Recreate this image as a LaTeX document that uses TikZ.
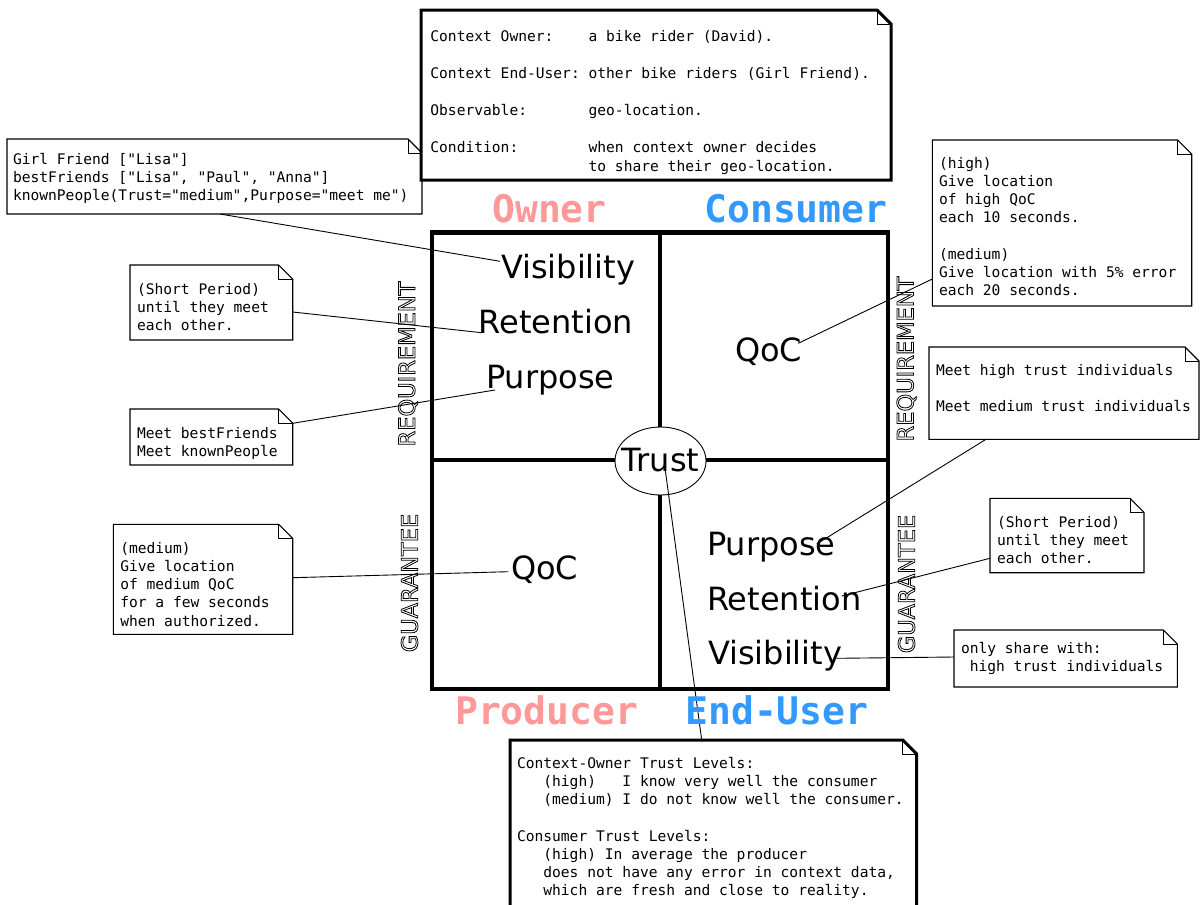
\documentclass[tikz,border=0pt]{standalone}
\usepackage{fontspec}
\setmainfont{DejaVu Sans}
\newfontfamily\monof{DejaVu Sans Mono}
\usetikzlibrary{shapes.geometric,calc}
\definecolor{ownpink}{RGB}{255,153,153}
\definecolor{conblue}{RGB}{51,153,255}
\newcommand\outl[1]{\special{pdf:literal direct 1 Tr 0.8 w}#1\special{pdf:literal direct 0 Tr}}
\newcommand\col[1]{\makebox[10.836em][l]{#1}}
\newcommand\dogear[2]{%
  \draw[line width=#1] (#2.south west) -- (#2.north west) -- ($(#2.north east)+(-14,0)$) -- ($(#2.north east)+(0,14)$) -- (#2.south east) -- cycle;
  \draw[line width=0.9] ($(#2.north east)+(-14,0)$) |- ($(#2.north east)+(0,14)$);}
\begin{document}
\begin{tikzpicture}[x=1pt,y=-1pt,line join=miter,
  every node/.style={inner sep=0pt,outer sep=0pt},
  box/.style={anchor=north west,fill=white,draw=none},
  mtext/.style={anchor=north west,align=left,font=\monof\fontsize{14.6}{18.2}\selectfont,yshift=9.74pt,execute at begin node=\strut},
  big/.style={anchor=base west,font=\fontsize{32}{36}\selectfont},
  role/.style={anchor=base,font=\monof\bfseries\fontsize{38}{44}\selectfont},
  side/.style={rotate=90,font=\fontsize{22.5}{27}\selectfont},
  conn/.style={line width=0.9},
  gridline/.style={line width=4.5}]
\useasboundingbox[fill=white] (0,0) rectangle (1200,905);

% grid
\draw[gridline] (432,232.5) rectangle (888,689);
\draw[gridline] (660,232.5) -- (660,689);
\draw[gridline] (432,460) -- (888,460);

% notes (thin)
\node[box,minimum width=415,minimum height=75] (tl) at (7,139) {};
\dogear{1.1}{tl}
\node[mtext] (tlt) at (13,163) {Girl Friend ["Lisa"]\\bestFriends ["Lisa", "Paul", "Anna"]\\knownPeople(Trust="medium",Purpose="meet me")};

\node[box,minimum width=162.7,minimum height=75] (sp1) at (130,265) {};
\dogear{1.1}{sp1}
\node[mtext] (sp1t) at (137,293) {(Short Period)\\until they meet\\each other.};

\node[box,minimum width=162.7,minimum height=56] (mb) at (130,409) {};
\dogear{1.1}{mb}
\node[mtext] (mbt) at (137,437) {Meet bestFriends\\Meet knownPeople};

\node[box,minimum width=179.4,minimum height=110] (med) at (113.3,524.3) {};
\dogear{1.1}{med}
\node[mtext] (medt) at (120.3,552) {(medium)\\Give location\\of medium QoC\\for a few seconds\\when authorized.};

\node[box,minimum width=259.4,minimum height=166] (tr) at (932.3,140) {};
\dogear{1.1}{tr}
\node[mtext] (trt) at (939,167) {(high)\\Give location\\of high QoC\\each 10 seconds.\\[18.2pt](medium)\\Give location with 5\% error\\each 20 seconds.};

\node[box,minimum width=270,minimum height=92.3] (mh) at (929,347) {};
\dogear{1.1}{mh}
\node[mtext] (mht) at (936,374) {Meet high trust individuals\\[18.2pt]Meet medium trust individuals};

\node[box,minimum width=154,minimum height=74.4] (sp2) at (990,498.3) {};
\dogear{1.1}{sp2}
\node[mtext] (sp2t) at (997,526) {(Short Period)\\until they meet\\each other.};

\node[box,minimum width=223.3,minimum height=57] (os) at (954,630) {};
\dogear{1.1}{os}
\node[mtext] (ost) at (961,652) {only share with:\\\phantom{0}high trust individuals};

% notes (thick)
\node[box,minimum width=470,minimum height=170] (top) at (421,10) {};
\dogear{3}{top}
\node[mtext] (topt) at (430.4,40.5) {\col{Context Owner:}a bike rider (David).\\[18.8pt]\col{Context End-User:}other bike riders (Girl Friend).\\[18.8pt]\col{Observable:}geo-location.\\[18.8pt]\col{Condition:}when context owner decides\\\col{}to share their geo-location.};

\node[box,minimum width=406.7,minimum height=185] (bb) at (510,740) {};
\dogear{3}{bb}
\node[mtext] (bbt) at (517,767) {Context-Owner Trust Levels:\\\phantom{000}(high)\phantom{000}I know very well the consumer\\\phantom{000}(medium) I do not know well the consumer.\\[18.2pt]Consumer Trust Levels:\\\phantom{000}(high) In average the producer\\\phantom{000}does not have any error in context data,\\\phantom{000}which are fresh and close to reality.};

% quadrant labels
\node[big] (vis1) at (501,278.3) {Visibility};
\node[big] (ret1) at (478.6,333.3) {Retention};
\node[big] (pur1) at (486.2,388.3) {Purpose};
\node[big] (qoc2) at (735,361.7) {QoC};
\node[big] (qoc1) at (511,579.3) {QoC};
\node[big] (pur2) at (707,555) {Purpose};
\node[big] (ret2) at (707,610.7) {Retention};
\node[big] (vis2) at (708,664) {Visibility};

\node[draw,fill=white,ellipse,line width=0.9,minimum width=91,minimum height=68] (trust) at (660.5,461) {};
\node[font=\fontsize{32}{36}\selectfont] (trustlbl) at (660.5,460) {Trust};

% side labels
\node[side] (reqL) at (408,364) {\outl{REQUIREMENT}};
\node[side] (guaL) at (409.5,583) {\outl{GUARANTEE}};
\node[side] (reqR) at (906.5,359) {\outl{REQUIREMENT}};
\node[side] (guaR) at (906.5,584) {\outl{GUARANTEE}};

% connectors
\draw[conn] ($(tl.south west)+(213,0)$) -- ($(vis1.base west)+(-1,-17)$);
\draw[conn] ($(sp1.north east)+(0,47)$) -- ($(ret1.base west)+(3,-0.6)$);
\draw[conn] ($(mb.north east)+(0,14.3)$) -- ($(pur1.base west)+(8.8,1.7)$);
\draw[conn] ($(med.north east)+(0,53.4)$) -- ($(qoc1.base west)+(-2.7,-7.6)$);
\draw[conn] ($(qoc2.base west)+(63.3,-18.4)$) -- ($(tr.north west)+(0,139)$);
\draw[conn] ($(pur2.base west)+(109.7,-11)$) -- ($(mh.south west)+(57,0)$);
\draw[conn] ($(ret2.base west)+(134.7,-14.7)$) -- ($(sp2.north west)+(0,60)$);
\draw[conn] ($(vis2.base west)+(128.7,-5.7)$) -- ($(os.north west)+(0,27)$);
\draw[conn] ($(trustlbl.center)+(4.5,8)$) -- ($(bb.north west)+(191.7,0)$);

% role labels
\node[role,text=ownpink] (owner) at (549.5,222) {Owner};
\node[role,text=conblue] (consumer) at (796,222) {Consumer};
\node[role,text=ownpink] (producer) at (546.7,724) {Producer};
\node[role,text=conblue] (enduser) at (777,724) {End-User};
\end{tikzpicture}
\end{document}
